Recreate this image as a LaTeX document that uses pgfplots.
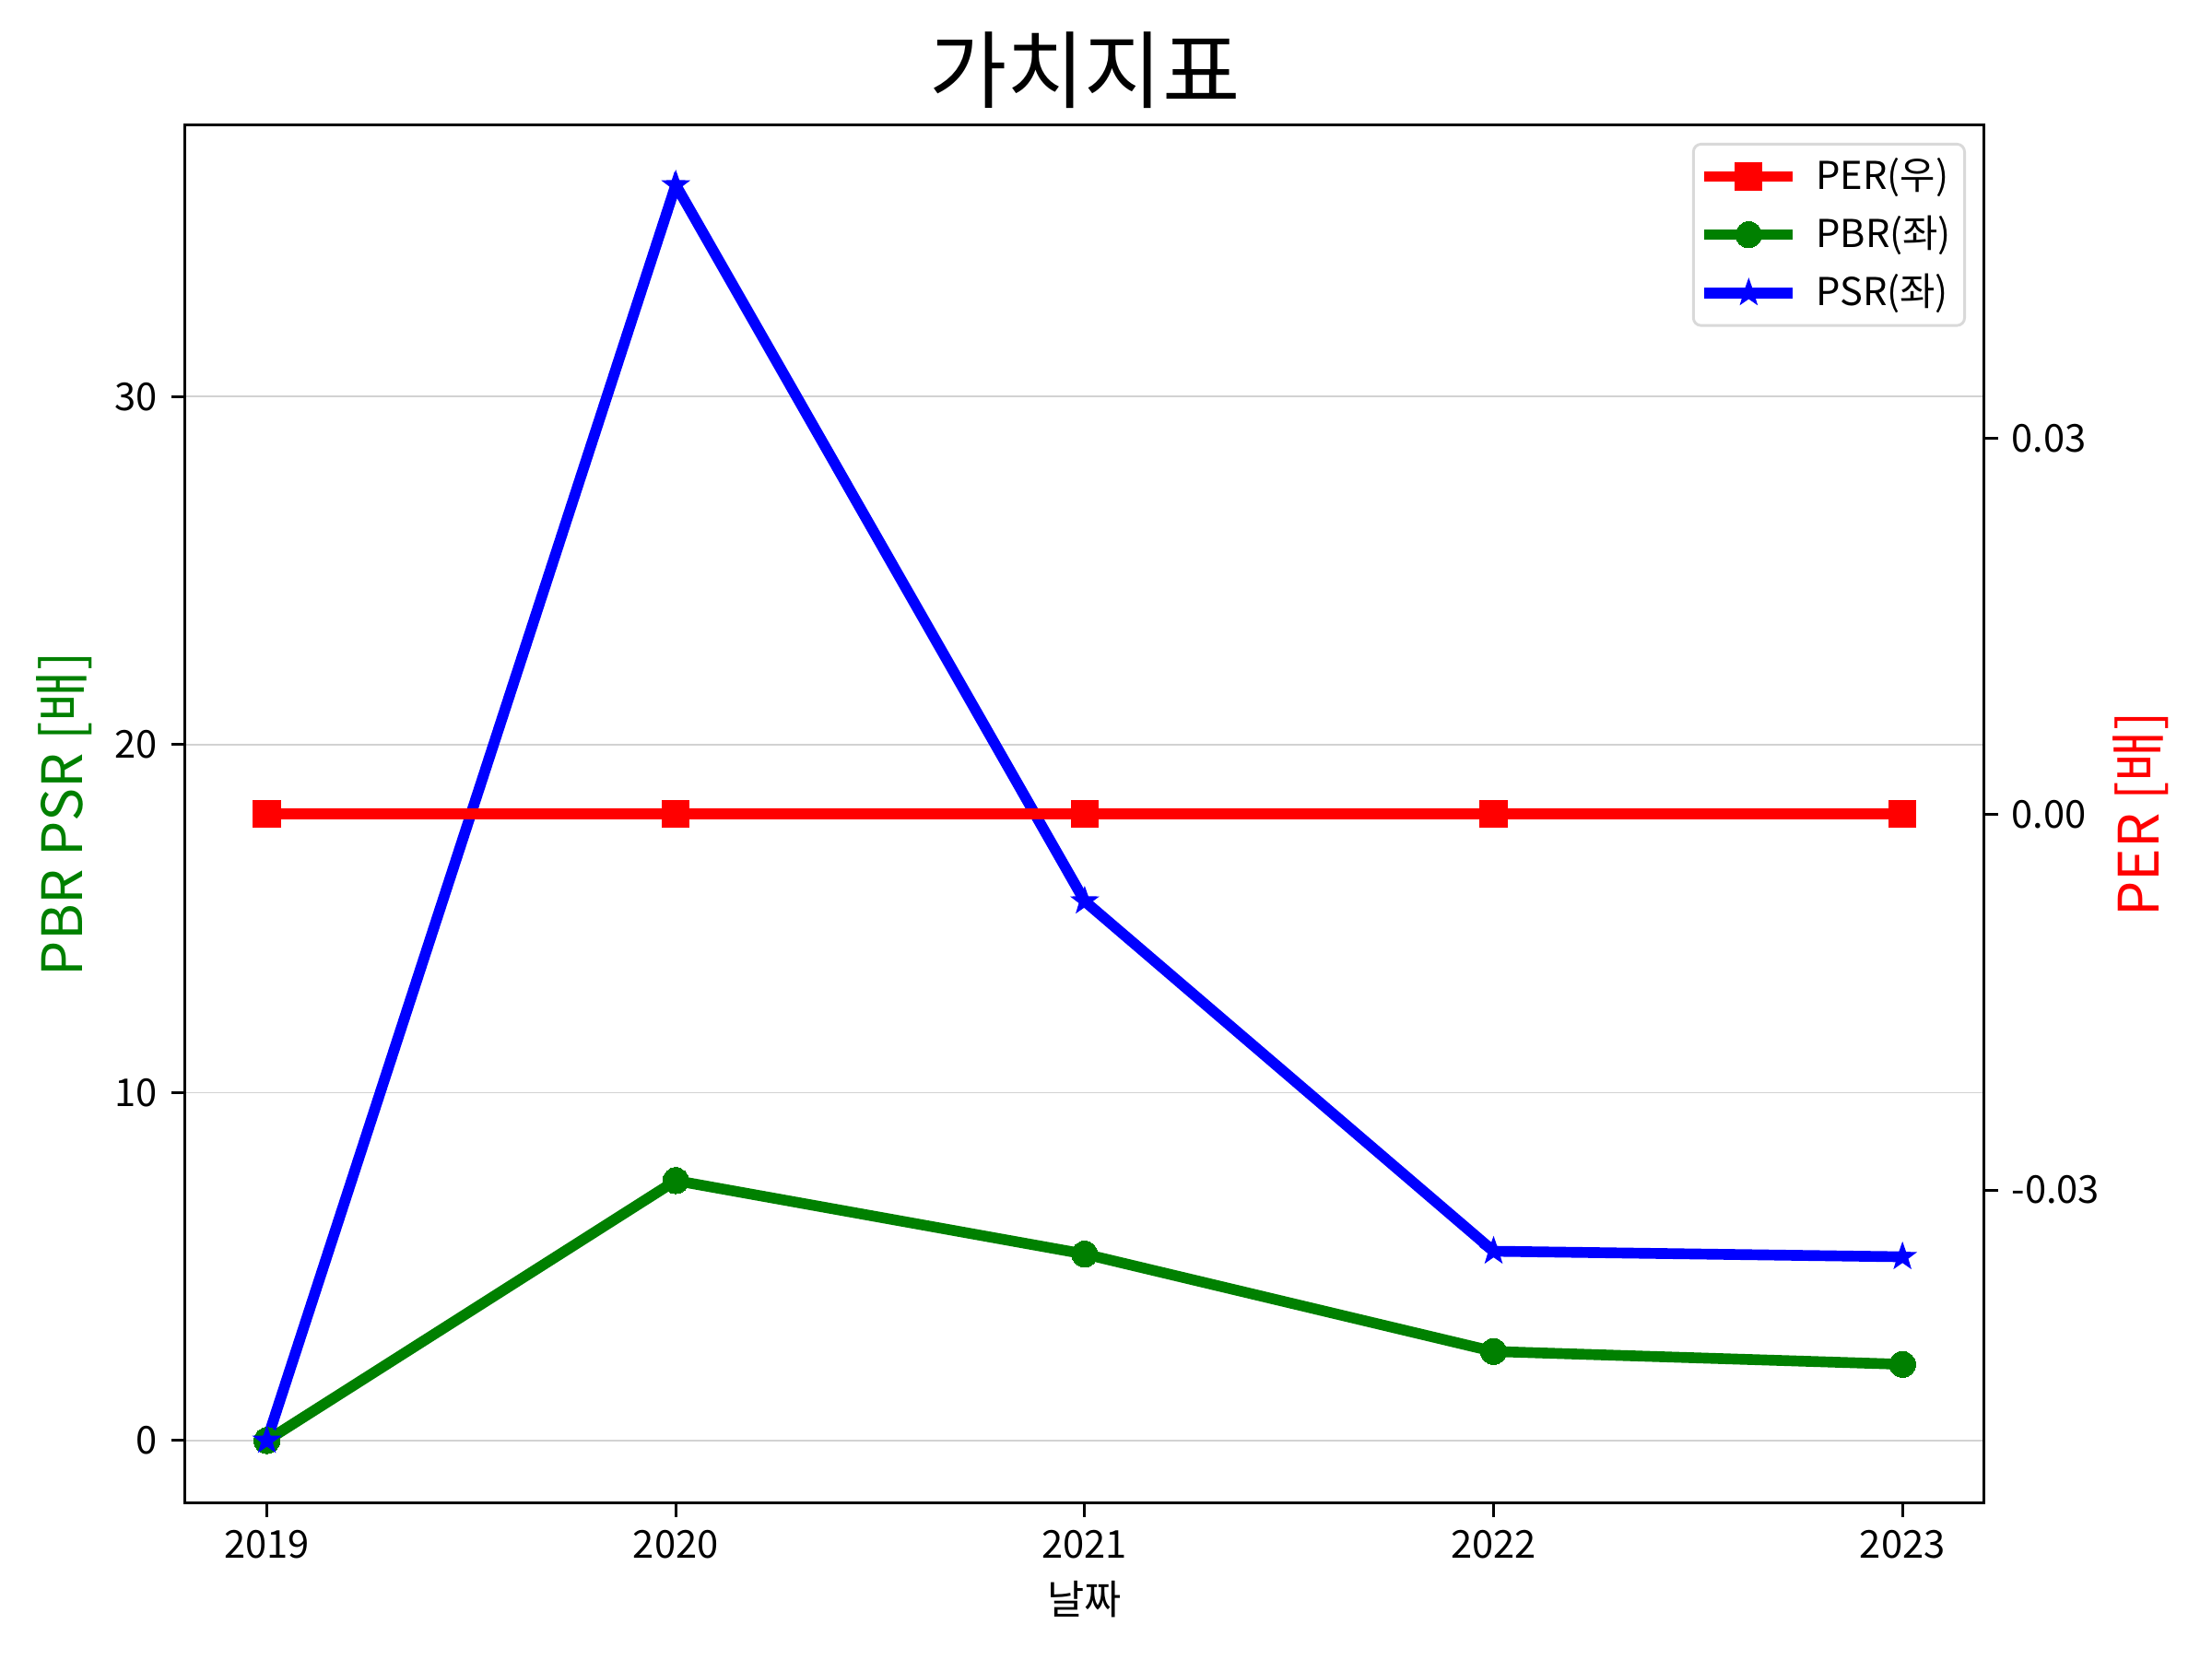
\documentclass[border=0pt]{standalone}
\usepackage{fontspec}
\setmainfont{Noto Sans CJK KR}
\usepackage{pgfplots}
\pgfplotsset{compat=1.18}
\definecolor{mplgreen}{HTML}{008000}
\definecolor{mplred}{HTML}{FF0000}
\definecolor{mplblue}{HTML}{0000FF}
\pgfdeclareplotmark{fstar}{%
  \pgfpathmoveto{\pgfpointpolar{90}{\pgfplotmarksize}}%
  \pgfpathlineto{\pgfpointpolar{126}{0.4\pgfplotmarksize}}%
  \pgfpathlineto{\pgfpointpolar{162}{\pgfplotmarksize}}%
  \pgfpathlineto{\pgfpointpolar{198}{0.4\pgfplotmarksize}}%
  \pgfpathlineto{\pgfpointpolar{234}{\pgfplotmarksize}}%
  \pgfpathlineto{\pgfpointpolar{270}{0.4\pgfplotmarksize}}%
  \pgfpathlineto{\pgfpointpolar{306}{\pgfplotmarksize}}%
  \pgfpathlineto{\pgfpointpolar{342}{0.4\pgfplotmarksize}}%
  \pgfpathlineto{\pgfpointpolar{18}{\pgfplotmarksize}}%
  \pgfpathlineto{\pgfpointpolar{54}{0.4\pgfplotmarksize}}%
  \pgfpathclose
  \pgfusepathqfillstroke}
\begin{document}
\begin{tikzpicture}
\useasboundingbox (0,0) rectangle (576pt,432pt);
\pgfplotsset{
 common/.style={
  at={(48.2pt,40.6pt)}, anchor=south west,
  scale only axis, width=468.5pt, height=358.8pt,
  xmin=2018.8, xmax=2023.2,
  axis line style={line width=0.7pt},
  tick style={line width=0.7pt, black},
  major tick length=3.6pt,
  tick align=outside,
  ticklabel style={font=\fontsize{10}{12}\selectfont},
  scaled ticks=false,
  /pgf/number format/assume math mode=true,
  legend image code/.code={\draw[mark repeat=2,mark phase=2,#1] plot coordinates {(0pt,0pt) (11.5pt,0pt) (23pt,0pt)};},
 }
}
\begin{axis}[common,
  ymin=-1.8, ymax=37.8,
  xtick={2019,2020,2021,2022,2023}, xticklabels={2019,2020,2021,2022,2023},
  xtick pos=bottom, ytick pos=left,
  ytick={0,10,20,30},
  ymajorgrids, grid style={line width=0.4pt, gray!35},
  title={가치지표},
  title style={at={(axis description cs:0.5,1.0234)}, anchor=center, font=\fontsize{22}{26}\selectfont},
  xlabel={날짜},
  xlabel style={at={(axis description cs:0.5,-0.0697)}, anchor=center, font=\fontsize{10.5}{12}\selectfont},
  ylabel={PBR PSR [배]},
  ylabel style={at={(axis description cs:-0.0674,0.5)}, anchor=center, font=\fontsize{14.5}{16}\selectfont, text=mplgreen},
]
\addplot[color=mplgreen, line width=2.8pt, mark=*, mark size=3.4pt, mark options={solid, line width=0pt, fill=mplgreen}]
 coordinates {(2019,0) (2020,7.47) (2021,5.36) (2022,2.56) (2023,2.19)};
\addplot[color=mplblue, line width=2.8pt, mark=fstar, mark size=3.4pt, mark options={solid, line width=0.4pt, fill=mplblue}]
 coordinates {(2019,0) (2020,36.08) (2021,15.5) (2022,5.44) (2023,5.28)};
\end{axis}
\begin{axis}[common,
  ymin=-0.055, ymax=0.055,
  hide x axis,
  axis y line*=right,
  ytick={-0.03,0,0.03}, yticklabels={-0.03,0.00,0.03},
  ylabel={PER [배]},
  ylabel style={at={(axis description cs:1.0871,0.5)}, anchor=center, font=\fontsize{14.5}{16}\selectfont, text=mplred},
  legend style={at={(axis description cs:0.9898,0.9872)}, anchor=north east,
    draw=gray!30, line width=0.7pt, rounded corners=2pt, fill=white,
    font=\fontsize{10}{12}\selectfont,
    inner xsep=1.5pt, inner ysep=2pt,
    nodes={inner ysep=1.6pt, inner xsep=2pt},
    row sep=2.2pt,
    /tikz/every odd column/.append style={column sep=2.6pt}},
  legend cell align=left,
]
\addplot[color=mplred, line width=2.8pt, mark=square*, mark size=3.5pt, mark options={solid, line width=0pt, fill=mplred}]
 coordinates {(2019,0) (2020,0) (2021,0) (2022,0) (2023,0)};
\addlegendentry{PER(우)}
\addlegendimage{color=mplgreen, line width=2.8pt, mark=*, mark size=3.4pt, mark options={solid, line width=0pt, fill=mplgreen}}
\addlegendentry{PBR(좌)}
\addlegendimage{color=mplblue, line width=2.8pt, mark=fstar, mark size=3.4pt, mark options={solid, line width=0.4pt, fill=mplblue}}
\addlegendentry{PSR(좌)}
\end{axis}
\end{tikzpicture}
\end{document}
